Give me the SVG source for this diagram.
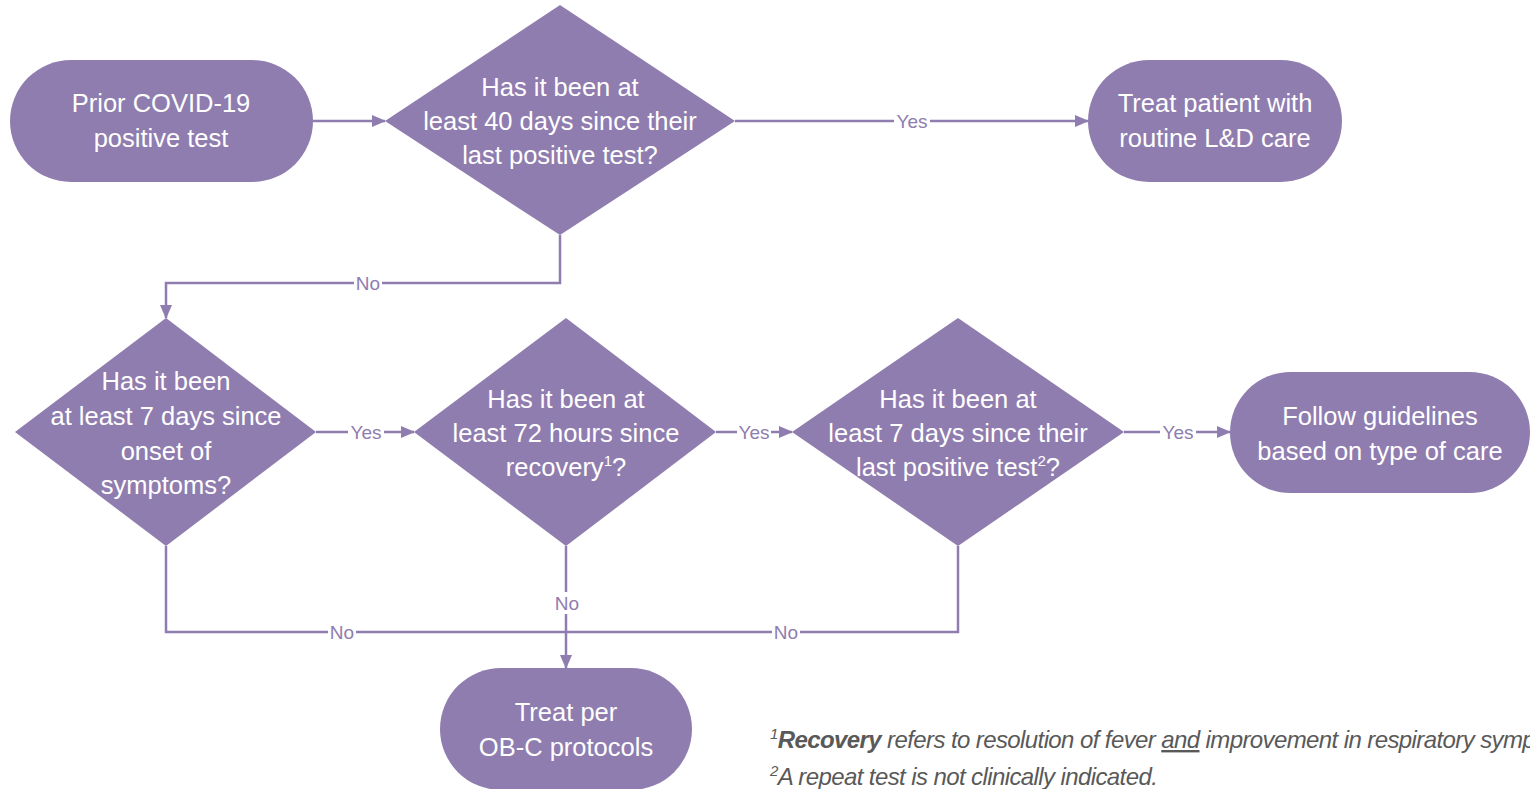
<svg xmlns="http://www.w3.org/2000/svg" width="1530" height="789" viewBox="0 0 1530 789">
<style>
.n{fill:#8f7daf;stroke:none}
.t{font-family:"Liberation Sans",Arial,sans-serif;font-size:25.5px;fill:#fff;text-anchor:middle}
.c{fill:none;stroke:#8f7daf;stroke-width:2.5}
.lb{font-family:"Liberation Sans",Arial,sans-serif;font-size:19px;fill:#8f7daf;text-anchor:middle}
.bg{fill:#fff}
.fn{font-family:"Liberation Sans",Arial,sans-serif;font-size:24px;font-style:italic;fill:#595959;letter-spacing:-0.6px}
</style>
<defs>
<marker id="a" markerWidth="14" markerHeight="12" refX="13" refY="6" orient="auto" markerUnits="userSpaceOnUse">
<path d="M0,0 L14,6 L0,12 Z" fill="#8f7daf"/>
</marker>
</defs>
<rect width="1530" height="789" fill="#fff"/>
<g id="connectors">
<path class="c" d="M313,121 H385" marker-end="url(#a)"/>
<path class="c" d="M735,121 H1088" marker-end="url(#a)"/>
<path class="c" d="M560,235 V283 H166 V318" marker-end="url(#a)"/>
<path class="c" d="M316,432 H414" marker-end="url(#a)"/>
<path class="c" d="M716,432 H792" marker-end="url(#a)"/>
<path class="c" d="M1124,432 H1230" marker-end="url(#a)"/>
<path class="c" d="M166,546 V632 H566"/>
<path class="c" d="M958,546 V632 H566"/>
<path class="c" d="M566,546 V668" marker-end="url(#a)"/>
<rect class="bg" x="894" y="110" width="36" height="22"/>
<text class="lb" x="912" y="128">Yes</text>
<rect class="bg" x="354" y="272" width="28" height="22"/>
<text class="lb" x="368" y="290">No</text>
<rect class="bg" x="348" y="421" width="36" height="22"/>
<text class="lb" x="366" y="439">Yes</text>
<rect class="bg" x="737" y="421" width="34" height="22"/>
<text class="lb" x="754" y="439">Yes</text>
<rect class="bg" x="1160" y="421" width="36" height="22"/>
<text class="lb" x="1178" y="439">Yes</text>
<rect class="bg" x="328" y="621" width="28" height="22"/>
<text class="lb" x="342" y="639">No</text>
<rect class="bg" x="772" y="621" width="28" height="22"/>
<text class="lb" x="786" y="639">No</text>
<rect class="bg" x="553" y="592" width="28" height="22"/>
<text class="lb" x="567" y="610">No</text>
</g>
<g id="n1">
<rect class="n" x="10" y="60" width="303" height="122" rx="61"/>
<text class="t" x="161" y="112">Prior COVID-19</text>
<text class="t" x="161" y="147">positive test</text>
</g>
<g id="d1">
<polygon class="n" points="560,5 735,121 560,235 385,121"/>
<text class="t" x="560" y="96">Has it been at</text>
<text class="t" x="560" y="130">least 40 days since their</text>
<text class="t" x="560" y="164">last positive test?</text>
</g>
<g id="n3">
<rect class="n" x="1088" y="60" width="254" height="122" rx="61"/>
<text class="t" x="1215" y="112">Treat patient with</text>
<text class="t" x="1215" y="147">routine L&amp;D care</text>
</g>
<g id="d2">
<polygon class="n" points="166,318 316,432 166,546 15,432"/>
<text class="t" x="166" y="390">Has it been</text>
<text class="t" x="166" y="425">at least 7 days since</text>
<text class="t" x="166" y="460">onset of</text>
<text class="t" x="166" y="494">symptoms?</text>
</g>
<g id="d3">
<polygon class="n" points="566,318 716,432 566,546 414,432"/>
<text class="t" x="566" y="408">Has it been at</text>
<text class="t" x="566" y="442">least 72 hours since</text>
<text class="t" x="566" y="476">recovery<tspan font-size="15" dy="-10">1</tspan><tspan dy="10">?</tspan></text>
</g>
<g id="d4">
<polygon class="n" points="958,318 1124,432 958,546 792,432"/>
<text class="t" x="958" y="408">Has it been at</text>
<text class="t" x="958" y="442">least 7 days since their</text>
<text class="t" x="958" y="476">last positive test<tspan font-size="15" dy="-10">2</tspan><tspan dy="10">?</tspan></text>
</g>
<g id="n_follow">
<rect class="n" x="1230" y="372" width="300" height="121" rx="60.5"/>
<text class="t" x="1380" y="425">Follow guidelines</text>
<text class="t" x="1380" y="460">based on type of care</text>
</g>
<g id="n_treat">
<rect class="n" x="440" y="668" width="252" height="122" rx="61"/>
<text class="t" x="566" y="721">Treat per</text>
<text class="t" x="566" y="756">OB-C protocols</text>
</g>
<g id="footnotes">
<text class="fn" x="770" y="748"><tspan font-size="15" dy="-9">1</tspan><tspan dy="9" font-weight="bold">Recovery</tspan> refers to resolution of fever <tspan text-decoration="underline">and</tspan> improvement in respiratory symptoms.</text>
<text class="fn" x="770" y="785"><tspan font-size="15" dy="-9">2</tspan><tspan dy="9">A repeat test is not clinically indicated.</tspan></text>
</g>
</svg>
